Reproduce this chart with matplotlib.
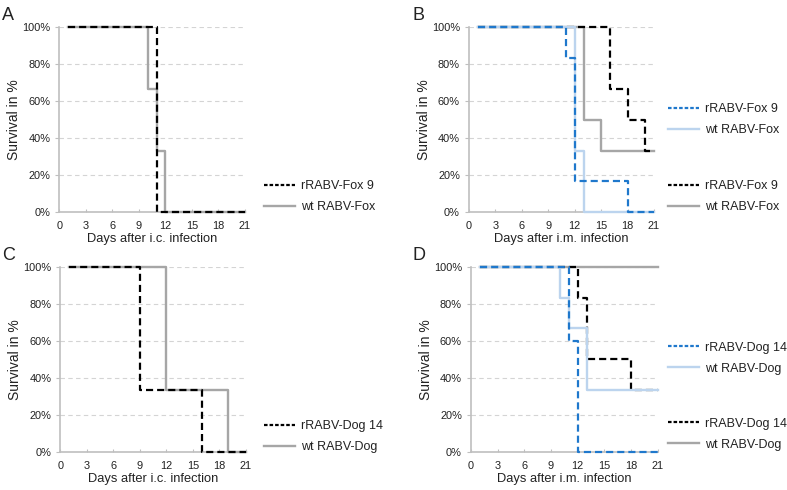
import matplotlib
matplotlib.use("Agg")
import matplotlib.pyplot as plt
from matplotlib.ticker import FuncFormatter
from matplotlib.legend import Legend
from matplotlib.lines import Line2D

plt.rcParams['font.family'] = ['Liberation Sans', 'DejaVu Sans']
plt.rcParams['text.color'] = '#222222'
plt.rcParams['axes.labelcolor'] = '#222222'
plt.rcParams['xtick.labelcolor'] = '#222222'
plt.rcParams['ytick.labelcolor'] = '#222222'

# ---- data (days, survival %) ----
# Panel A (i.c., Fox)
a_rfox_days = [1, 11, 21]
a_rfox_surv = [100, 0, 0]
a_wtfox_days = [1, 10, 11, 12, 21]
a_wtfox_surv = [100, 66.7, 33.3, 0, 0]

# Panel B (i.m., Fox) - two groups
b1_rfox_days = [1, 11, 12, 18, 21]
b1_rfox_surv = [100, 83.3, 16.7, 0, 0]
b1_wtfox_days = [1, 12, 13, 21]
b1_wtfox_surv = [100, 33.3, 0, 0]
b2_rfox_days = [1, 16, 18, 20, 21]
b2_rfox_surv = [100, 66.7, 50, 33.3, 33.3]
b2_wtfox_days = [1, 13, 15, 21]
b2_wtfox_surv = [100, 50, 33.3, 33.3]

# Panel C (i.c., Dog)
c_rdog_days = [1, 9, 16, 21]
c_rdog_surv = [100, 33.3, 0, 0]
c_wtdog_days = [1, 12, 19, 21]
c_wtdog_surv = [100, 33.3, 0, 0]

# Panel D (i.m., Dog) - two groups
d1_rdog_days = [1, 11, 12, 21]
d1_rdog_surv = [100, 60, 0, 0]
d1_wtdog_days = [1, 10, 11, 13, 21]
d1_wtdog_surv = [100, 83.3, 66.7, 33.3, 33.3]
d2_rdog_days = [1, 12, 13, 18, 21]
d2_rdog_surv = [100, 83.3, 50, 33.3, 33.3]
d2_wtdog_days = [1, 21]
d2_wtdog_surv = [100, 100]

x_ticks = [0, 3, 6, 9, 12, 15, 18, 21]
y_ticks = [0, 20, 40, 60, 80, 100]

BLACK = '#000000'
GRAY = '#a6a6a6'
BLUE = '#1f78cc'
LBLUE = '#bcd4ee'
DASH = (3.2, 1.8)

fig = plt.figure(figsize=(7.87, 4.90), dpi=100)

def setup(ax, xlabel):
    ax.set_xlim(0, 21)
    ax.set_ylim(0, 100)
    ax.set_xticks(x_ticks)
    ax.set_yticks(y_ticks)
    ax.yaxis.set_major_formatter(FuncFormatter(lambda v, p: f"{int(v)}%"))
    for s in ['top', 'right']:
        ax.spines[s].set_visible(False)
    for s in ['left', 'bottom']:
        ax.spines[s].set_color('#bfbfbf')
        ax.spines[s].set_linewidth(1.2)
    ax.tick_params(axis='x', direction='in', length=2.5, color='#bfbfbf', labelsize=7.9, pad=6.5)
    ax.tick_params(axis='y', direction='out', length=3, color='#bfbfbf', labelsize=7.9, pad=3.5)
    ax.grid(axis='y', color='#d4d4d4', linestyle=(0, (4, 3)), linewidth=0.8)
    ax.set_axisbelow(True)
    ax.set_xlabel(xlabel, fontsize=9.3, labelpad=1.5)
    ax.set_ylabel('Survival in %', fontsize=10, labelpad=0.5)

def draw(ax, d, s, color, dashed, z):
    if dashed:
        ax.step(d, s, where='post', color=color, lw=1.6, linestyle=(0, DASH), zorder=z, clip_on=False)
    else:
        ax.step(d, s, where='post', color=color, lw=1.7, zorder=z, clip_on=False)

def legend(ax, entries, xf, yf):
    handles = []
    labels = []
    for lab, color, dashed in entries:
        if dashed:
            h = Line2D([], [], color=color, lw=1.6, linestyle=(0, (1.6, 0.9)))
        else:
            h = Line2D([], [], color=color, lw=1.7)
        handles.append(h)
        labels.append(lab)
    leg = Legend(ax, handles, labels, loc='center left', bbox_to_anchor=(xf, yf),
                 bbox_transform=fig.transFigure, frameon=False, fontsize=9,
                 handlelength=2.5, handletextpad=0.45, labelspacing=0.72,
                 borderpad=0, borderaxespad=0)
    ax.add_artist(leg)
    return leg

axA = fig.add_axes([0.0754, 0.5667, 0.2359, 0.3788])
axB = fig.add_axes([0.5959, 0.5667, 0.2351, 0.3788])
axC = fig.add_axes([0.0766, 0.0782, 0.2360, 0.3776])
axD = fig.add_axes([0.5985, 0.0782, 0.2372, 0.3776])

setup(axA, 'Days after i.c. infection')
setup(axB, 'Days after i.m. infection')
setup(axC, 'Days after i.c. infection')
setup(axD, 'Days after i.m. infection')

# A
draw(axA, a_wtfox_days, a_wtfox_surv, GRAY, False, 3)
draw(axA, a_rfox_days, a_rfox_surv, BLACK, True, 4)
legend(axA, [('rRABV-Fox 9', BLACK, True), ('wt RABV-Fox', GRAY, False)], 0.335, 0.599)

# B
draw(axB, b2_wtfox_days, b2_wtfox_surv, GRAY, False, 3)
draw(axB, b2_rfox_days, b2_rfox_surv, BLACK, True, 4)
draw(axB, b1_wtfox_days, b1_wtfox_surv, LBLUE, False, 5)
draw(axB, b1_rfox_days, b1_rfox_surv, BLUE, True, 6)
legend(axB, [('rRABV-Fox 9', BLUE, True), ('wt RABV-Fox', LBLUE, False)], 0.849, 0.756)
legend(axB, [('rRABV-Fox 9', BLACK, True), ('wt RABV-Fox', GRAY, False)], 0.849, 0.599)

# C
draw(axC, c_wtdog_days, c_wtdog_surv, GRAY, False, 3)
draw(axC, c_rdog_days, c_rdog_surv, BLACK, True, 4)
legend(axC, [('rRABV-Dog 14', BLACK, True), ('wt RABV-Dog', GRAY, False)], 0.335, 0.109)

# D
draw(axD, d2_wtdog_days, d2_wtdog_surv, GRAY, False, 3)
draw(axD, d2_rdog_days, d2_rdog_surv, BLACK, True, 4)
draw(axD, d1_wtdog_days, d1_wtdog_surv, LBLUE, False, 5)
draw(axD, d1_rdog_days, d1_rdog_surv, BLUE, True, 6)
legend(axD, [('rRABV-Dog 14', BLUE, True), ('wt RABV-Dog', LBLUE, False)], 0.849, 0.269)
legend(axD, [('rRABV-Dog 14', BLACK, True), ('wt RABV-Dog', GRAY, False)], 0.849, 0.114)

# panel letters
for lab, x, y in [('A', 0.003, 0.985), ('B', 0.524, 0.985), ('C', 0.003, 0.495), ('D', 0.524, 0.495)]:
    fig.text(x, y, lab, fontsize=13, ha='left', va='top')

fig.savefig('out.png', dpi=100)
